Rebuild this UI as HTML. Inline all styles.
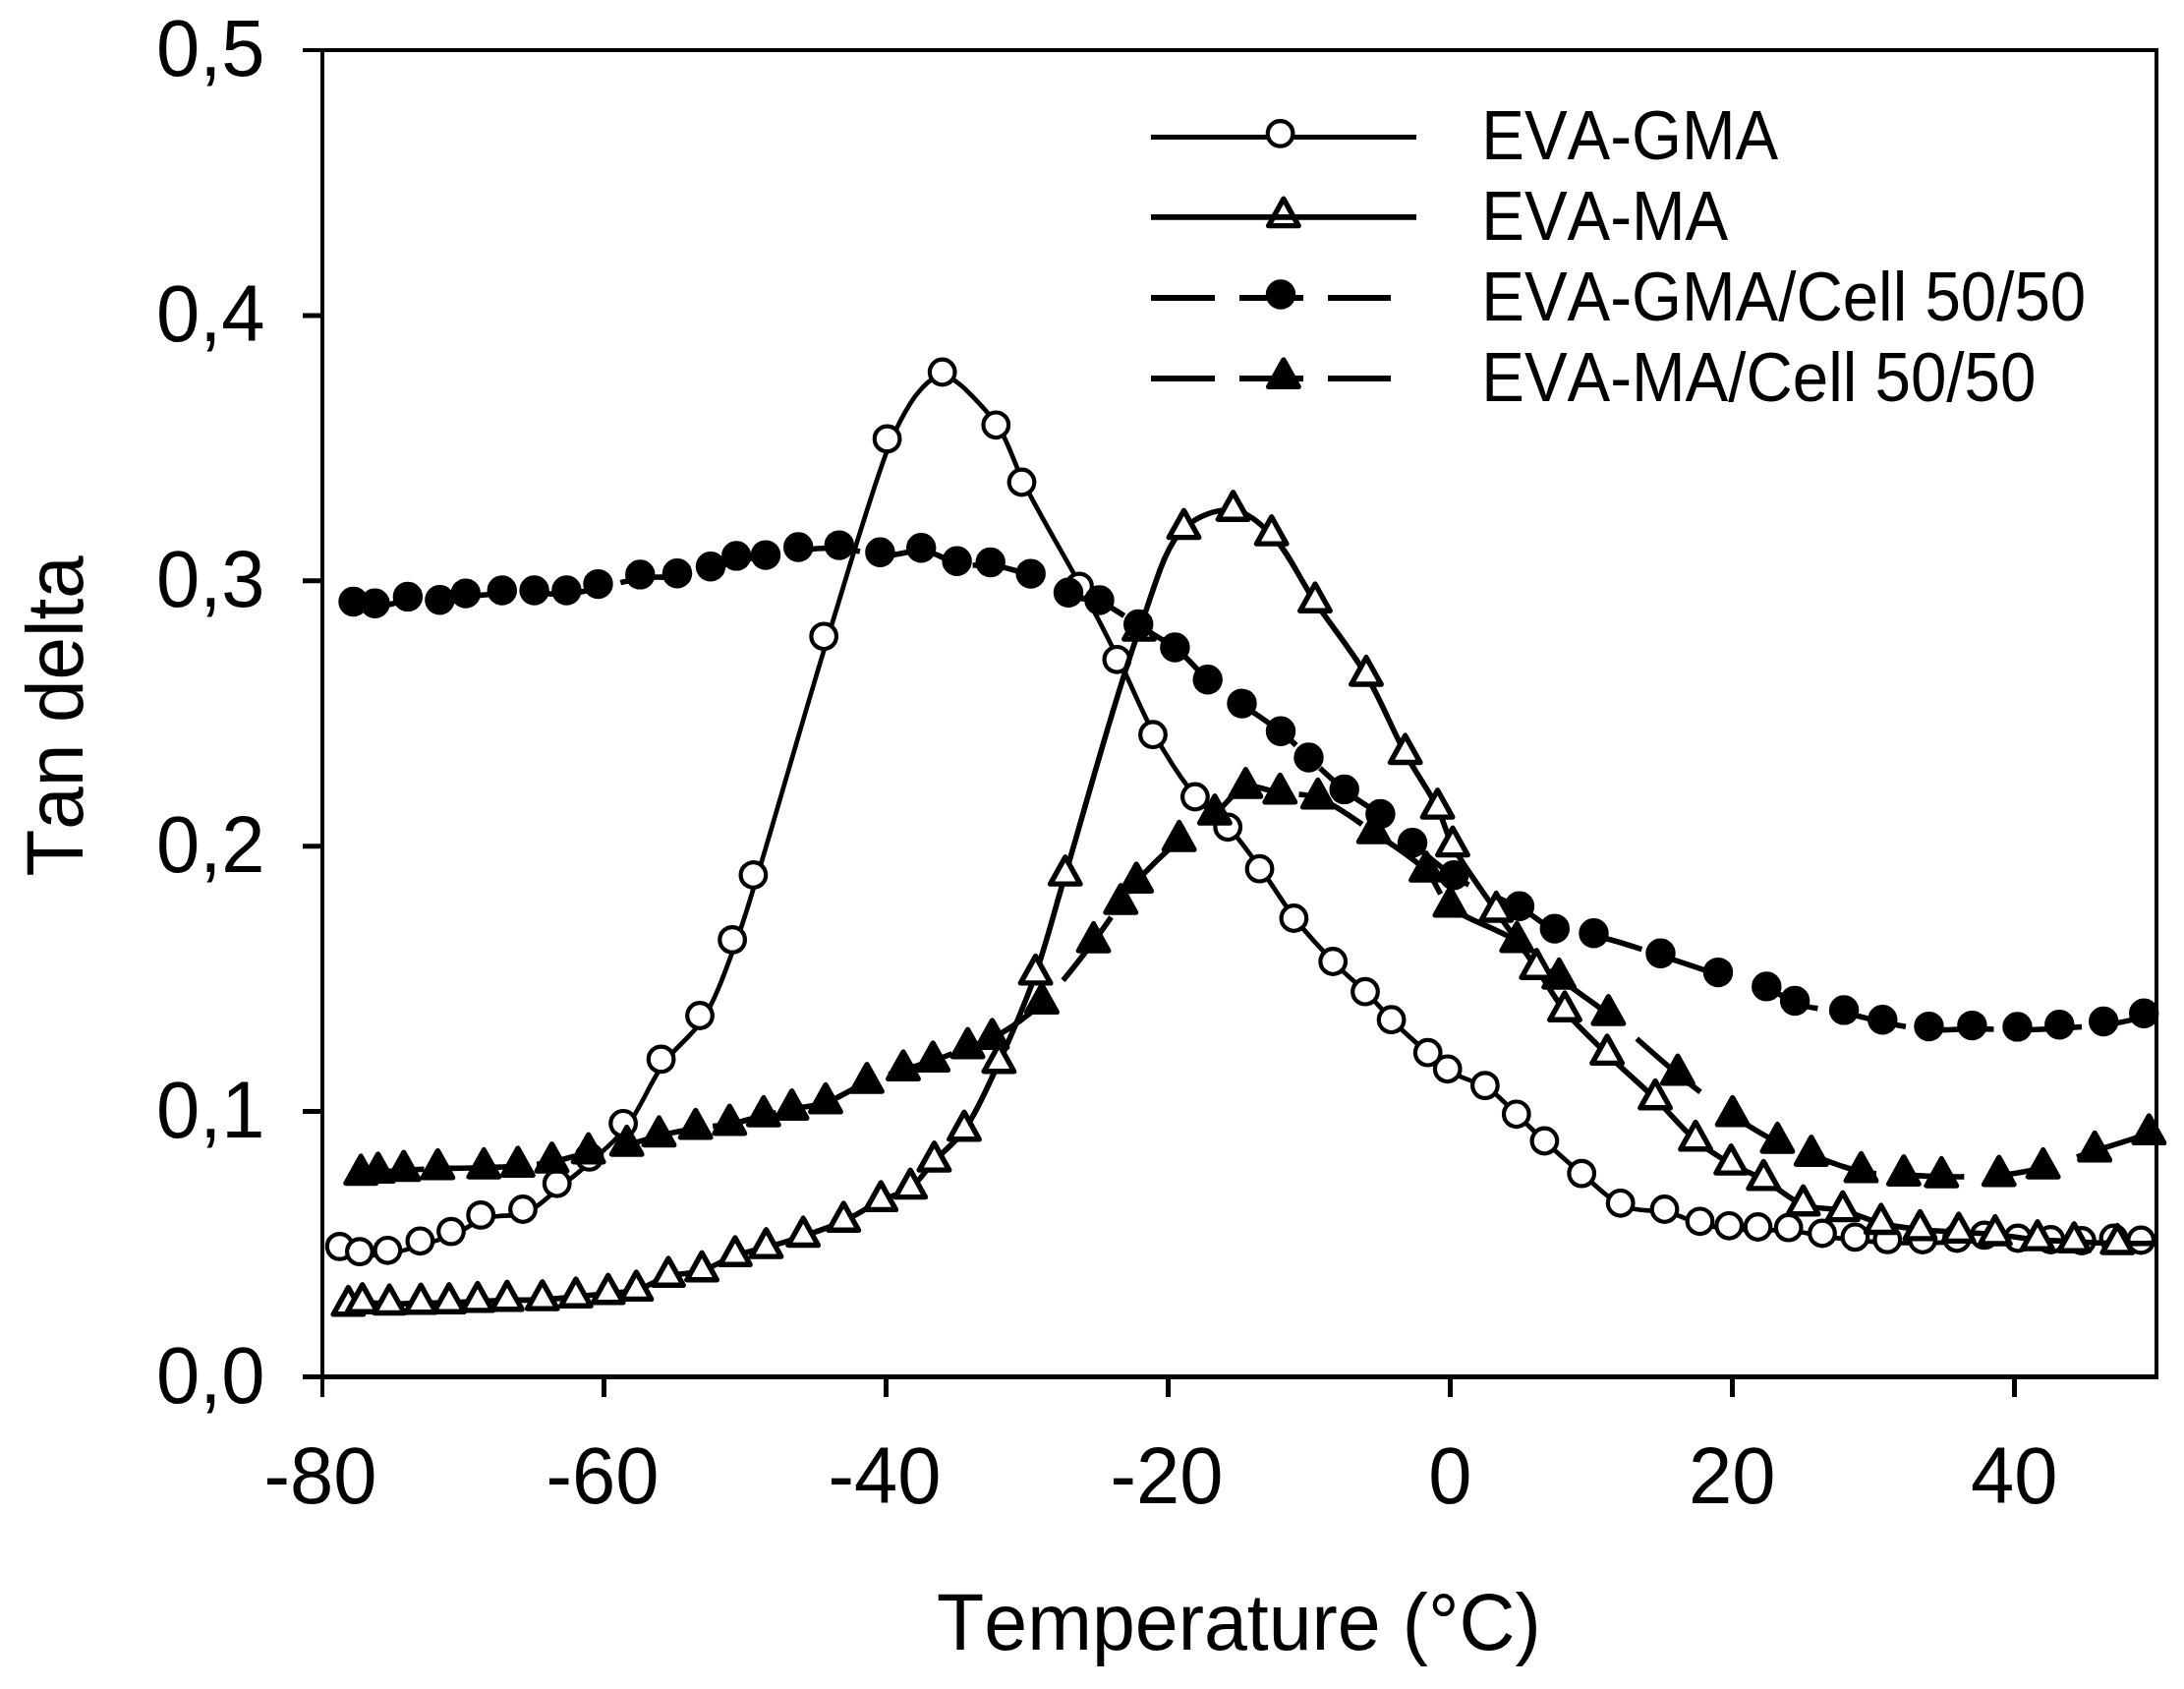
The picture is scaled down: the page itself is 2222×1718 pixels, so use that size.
<!DOCTYPE html>
<html lang="en"><head><meta charset="utf-8"><title>Tan delta vs Temperature</title>
<style>html,body{margin:0;padding:0;background:#fff}svg{display:block}</style></head>
<body>
<svg width="2222" height="1718" viewBox="0 0 2222 1718">
<defs><path id="tri" d="M0 1.8L-15.2 29.1L15.2 29.1Z"/></defs>
<rect width="2222" height="1718" fill="#fff"/>
<g fill="none" stroke="#000" stroke-width="4" stroke-linecap="butt">
<path d="M308 51H2196M2194 49V1403M328 49V1421"/>
<path d="M308 1400.5H2196" stroke-width="5"/>
<path d="M308 1130.6H328M308 860.7H328M308 590.8H328M308 320.9H328" stroke-width="5"/>
<path d="M614.5 1400V1421M901.5 1400V1421M1188.5 1400V1421M1475.5 1400V1421M1762.5 1400V1421M2049.5 1400V1421" stroke-width="5"/>
</g>
<g font-family="'Liberation Sans', Arial, sans-serif" fill="#000" style="font-kerning:none">
<g font-size="79.5" text-anchor="end">
<text transform="translate(269.5 1426.8) scale(1 1.028)">0,0</text>
<text transform="translate(269.5 1156.9) scale(1 1.028)">0,1</text>
<text transform="translate(269.5 887) scale(1 1.028)">0,2</text>
<text transform="translate(269.5 617.1) scale(1 1.028)">0,3</text>
<text transform="translate(269.5 347.2) scale(1 1.028)">0,4</text>
<text transform="translate(269.5 77.3) scale(1 1.028)">0,5</text>
</g>
<g font-size="79.5" text-anchor="middle">
<text transform="translate(325.9 1528.7) scale(1 1.028)">-80</text>
<text transform="translate(612.9 1528.7) scale(1 1.028)">-60</text>
<text transform="translate(899.9 1528.7) scale(1 1.028)">-40</text>
<text transform="translate(1186.9 1528.7) scale(1 1.028)">-20</text>
<text transform="translate(1475.3 1528.7) scale(1 1.028)">0</text>
<text transform="translate(1762.3 1528.7) scale(1 1.028)">20</text>
<text transform="translate(2049.3 1528.7) scale(1 1.028)">40</text>
<text transform="translate(1260.4 1678.2) scale(1 1.035)" font-size="78.9">Temperature (°C)</text>
<text transform="translate(83.6 728.4) rotate(-90) scale(1 1.035)" font-size="78.2">Tan delta</text>
</g>
<g font-size="65.5">
<text transform="translate(1507.2 161.6) scale(1 1.062)">EVA-GMA</text>
<text transform="translate(1507.2 243.6) scale(1 1.062)">EVA-MA</text>
<text transform="translate(1507.2 325.6) scale(1 1.062)">EVA-GMA/Cell 50/50</text>
<text transform="translate(1507.2 407.6) scale(1 1.062)">EVA-MA/Cell 50/50</text>
</g>
</g>
<path d="M349 1271.2C355.8 1272.9 361.9 1275.6 369.3 1276.4C377.9 1277.3 388 1276.7 397.8 1275.1C408.5 1273.3 419.9 1268.8 430.8 1265.6C441.5 1262.4 452.2 1260.2 462.4 1255.9C472.8 1251.5 481.3 1243 492.6 1239.2C505.3 1235 522.5 1238.6 535.4 1233.3C548.3 1228 558.8 1216 570.1 1207.1C581.3 1198.3 592 1190 602.9 1180.2C614.5 1169.7 626.5 1160.2 637.5 1146.1C651.2 1128.5 662.1 1099.8 676 1080.7C688.3 1063.8 704 1054.2 715.4 1036.3C728.9 1015 739.2 984.1 748.5 959.2C757 936.6 760.8 922.3 769.8 893.3C786.9 837.9 817.9 727.6 841.6 650.6C863.3 580.3 889.2 490.4 906 449.7C913.7 431 920.3 419.7 926.2 410.2C929.8 404.4 932.6 400.9 936.1 397C939.3 393.4 942.2 390 946 387.5C950.1 384.8 955.3 381.3 960 381.5C964.9 381.7 970 386.1 974.8 389.6C980.4 393.7 985.4 398.9 991.3 405.2C999.1 413.5 1008.9 423.2 1016.7 435.6C1026.6 451.3 1031.9 471.8 1042.9 493.8C1058.1 524.1 1084.1 567.4 1101.4 599.7C1115.8 626.6 1127.3 649 1139.8 674.1C1152.3 699.3 1162.7 726.7 1176.4 750.5C1189.4 773.1 1204.9 797.1 1219.3 813.8C1230.4 826.7 1242.1 833 1252.6 844.6C1264 857.2 1274.1 872.1 1284.9 887C1296.5 902.9 1307.2 921.5 1319.8 937.3C1332.2 952.9 1346.7 968.2 1359.6 981.3C1370.8 992.7 1382.2 1001.8 1392.4 1012C1401.9 1021.5 1409.2 1030.8 1419 1040.5C1430.1 1051.4 1445.5 1064.9 1456.1 1074C1463.7 1080.6 1467.9 1085.6 1476.1 1090.6C1486.4 1097 1502.7 1099.8 1514.3 1107.4C1526.1 1115.1 1535.9 1127 1546.2 1136.6C1556 1145.8 1564.5 1154.4 1574.8 1163.8C1586.4 1174.4 1599.7 1186.3 1612.6 1196.9C1625.5 1207.4 1637.7 1221.1 1652.1 1227.1C1665.9 1232.8 1682.9 1230 1696.9 1233.3C1709.7 1236.3 1721.4 1242.8 1732.9 1245.6C1743.2 1248.1 1752.7 1249.2 1762.6 1250.1C1772.4 1251 1782 1251 1791.9 1251.3C1802.1 1251.6 1812.5 1251 1823.1 1252C1834.3 1253.1 1846 1256.2 1857.4 1257.8C1868.6 1259.4 1879.7 1260.5 1890.8 1261.6C1901.8 1262.7 1912.5 1263.7 1923.7 1264.2C1935.4 1264.7 1947.6 1264.5 1959.5 1264.3C1971.2 1264.1 1983.4 1263.6 1994.4 1262.8C2004.2 1262 2012.5 1259.8 2022.3 1259.7C2033.1 1259.6 2045.1 1262 2056.4 1262.8C2067.6 1263.6 2078.8 1263.9 2089.8 1264.3C2100.5 1264.7 2110.7 1265.5 2121.3 1265.3C2132.1 1265.1 2143.5 1262.8 2153.9 1262.8C2163.5 1262.8 2172.4 1264.1 2181.6 1264.8" fill="none" stroke="#000" stroke-width="4.7" stroke-linejoin="round"/>
<g fill="#fff" stroke="#000" stroke-width="4.2">
<circle cx="345.6" cy="1267.9" r="12.8"/>
<circle cx="365.9" cy="1273.1" r="12.8"/>
<circle cx="394.4" cy="1271.8" r="12.8"/>
<circle cx="427.4" cy="1262.3" r="12.8"/>
<circle cx="459" cy="1252.6" r="12.8"/>
<circle cx="489.2" cy="1235.9" r="12.8"/>
<circle cx="532" cy="1230" r="12.8"/>
<circle cx="566.7" cy="1203.8" r="12.8"/>
<circle cx="599.5" cy="1176.9" r="12.8"/>
<circle cx="634.1" cy="1142.8" r="12.8"/>
<circle cx="672.6" cy="1077.4" r="12.8"/>
<circle cx="712" cy="1033" r="12.8"/>
<circle cx="745.1" cy="955.9" r="12.8"/>
<circle cx="766.4" cy="890" r="12.8"/>
<circle cx="838.2" cy="647.3" r="12.8"/>
<circle cx="902.6" cy="446.4" r="12.8"/>
<circle cx="958.7" cy="378.5" r="12.8"/>
<circle cx="1013.3" cy="432.3" r="12.8"/>
<circle cx="1039.5" cy="490.5" r="12.8"/>
<circle cx="1098" cy="596.4" r="12.8"/>
<circle cx="1136.4" cy="670.8" r="12.8"/>
<circle cx="1173" cy="747.2" r="12.8"/>
<circle cx="1215.9" cy="810.5" r="12.8"/>
<circle cx="1249.2" cy="841.3" r="12.8"/>
<circle cx="1281.5" cy="883.7" r="12.8"/>
<circle cx="1316.4" cy="934" r="12.8"/>
<circle cx="1356.2" cy="978" r="12.8"/>
<circle cx="1389" cy="1008.7" r="12.8"/>
<circle cx="1415.6" cy="1037.2" r="12.8"/>
<circle cx="1452.7" cy="1070.7" r="12.8"/>
<circle cx="1472.7" cy="1087.3" r="12.8"/>
<circle cx="1510.9" cy="1104.1" r="12.8"/>
<circle cx="1542.8" cy="1133.3" r="12.8"/>
<circle cx="1571.4" cy="1160.5" r="12.8"/>
<circle cx="1609.2" cy="1193.6" r="12.8"/>
<circle cx="1648.7" cy="1223.8" r="12.8"/>
<circle cx="1693.5" cy="1230" r="12.8"/>
<circle cx="1729.5" cy="1242.3" r="12.8"/>
<circle cx="1759.2" cy="1246.8" r="12.8"/>
<circle cx="1788.5" cy="1248" r="12.8"/>
<circle cx="1819.7" cy="1248.7" r="12.8"/>
<circle cx="1854" cy="1254.5" r="12.8"/>
<circle cx="1887.4" cy="1258.3" r="12.8"/>
<circle cx="1920.3" cy="1260.9" r="12.8"/>
<circle cx="1956.1" cy="1261" r="12.8"/>
<circle cx="1991" cy="1259.5" r="12.8"/>
<circle cx="2018.9" cy="1256.4" r="12.8"/>
<circle cx="2053" cy="1259.5" r="12.8"/>
<circle cx="2086.4" cy="1261" r="12.8"/>
<circle cx="2117.9" cy="1262" r="12.8"/>
<circle cx="2150.5" cy="1259.5" r="12.8"/>
<circle cx="2178.2" cy="1261.5" r="12.8"/>
</g>
<path d="M354.4 1327.6C359.2 1326.7 363.1 1325.4 368.7 1325C376.4 1324.5 386.7 1326.2 396.2 1326.3C406.5 1326.4 417.8 1325.7 428.2 1325.5C438 1325.3 447.3 1325.3 456.9 1325C466.5 1324.7 476.2 1324.1 485.9 1323.7C495.8 1323.3 505.4 1322.8 515.9 1322.5C527.3 1322.2 540 1322.5 551.8 1321.9C563.3 1321.3 574.7 1320.2 585.9 1319.1C596.9 1318 608.1 1316.7 618.7 1315.5C628.6 1314.4 637.7 1314.8 647.4 1312.2C658.1 1309.3 668.8 1301.4 680 1298.1C691 1294.9 703 1295.9 714.1 1292.5C725.6 1289 736.6 1281.1 747.9 1277.1C758.4 1273.4 768.5 1272 779.5 1268.9C791.5 1265.5 804.4 1261.6 817.2 1257.3C830.7 1252.7 845.1 1248.1 858.3 1242.1C871.4 1236.1 884.2 1227.1 896.2 1221.2C906.6 1216.1 917.3 1214.8 926.2 1208.4C935.6 1201.6 941.8 1190.3 950.5 1180.9C960 1170.7 971.4 1162.9 981 1149.5C993.8 1131.7 1004.9 1105.3 1016.4 1080.5C1029.2 1052.8 1042.5 1021.8 1053.6 990.7C1065.1 958.4 1071.4 931 1083.8 889.9C1103.2 825.3 1135.2 705.4 1159 640.9C1174.7 598.4 1183.9 556.7 1204.5 537.4C1218.6 524.1 1239.3 517.3 1254.6 519C1268.9 520.5 1281.5 531.8 1293.7 543.9C1309.9 559.9 1322.4 589 1338 612.1C1354.5 636.6 1374.6 660.9 1390 686.8C1405.2 712.4 1416.7 742.4 1429.7 766.3C1440.8 786.7 1454.2 804.8 1462.6 821.9C1469.4 835.6 1470.6 846.3 1478 860.4C1488.3 880 1507.7 905.5 1522.3 926.8C1536.1 946.9 1551 967 1563.3 985C1573.8 1000.4 1580.7 1014.2 1592 1028.1C1604.3 1043.3 1620.1 1057.6 1635.1 1072.2C1650.7 1087.4 1668.7 1102.6 1684.1 1117.6C1698.6 1131.7 1711.3 1148.1 1725.1 1159.6C1737 1169.5 1749.2 1177 1761.2 1183.9C1772.2 1190.2 1782.9 1193.4 1794.3 1199.7C1807.3 1206.9 1820.6 1220.3 1834.6 1225.5C1847.5 1230.3 1861.6 1228.3 1874.8 1231.4C1888 1234.5 1900.6 1241.1 1913.8 1244.3C1926.8 1247.5 1940.3 1249.2 1953.5 1250.7C1966.6 1252.2 1979.9 1252.3 1992.8 1253.2C2005.3 1254 2017.1 1254.6 2029.9 1255.8C2043.7 1257.1 2059.1 1259.7 2073 1260.9C2085.8 1262 2097.3 1262.4 2110.2 1263C2124.3 1263.7 2140.1 1264.5 2154.3 1264.8C2167.6 1265 2180.1 1264.7 2193 1264.6" fill="none" stroke="#000" stroke-width="5.6" stroke-linejoin="round"/>
<g fill="#fff" stroke="#000" stroke-width="5.4" stroke-linejoin="round">
<use href="#tri" x="354.4" y="1307.7"/>
<use href="#tri" x="368.7" y="1305.1"/>
<use href="#tri" x="396.2" y="1306.4"/>
<use href="#tri" x="428.2" y="1305.6"/>
<use href="#tri" x="456.9" y="1305.1"/>
<use href="#tri" x="485.9" y="1303.8"/>
<use href="#tri" x="515.9" y="1302.6"/>
<use href="#tri" x="551.8" y="1302"/>
<use href="#tri" x="585.9" y="1299.2"/>
<use href="#tri" x="618.7" y="1295.6"/>
<use href="#tri" x="647.4" y="1292.3"/>
<use href="#tri" x="680" y="1278.2"/>
<use href="#tri" x="714.1" y="1272.6"/>
<use href="#tri" x="747.9" y="1257.2"/>
<use href="#tri" x="779.5" y="1249"/>
<use href="#tri" x="817.2" y="1237.4"/>
<use href="#tri" x="858.3" y="1222.2"/>
<use href="#tri" x="896.2" y="1201.3"/>
<use href="#tri" x="926.2" y="1188.5"/>
<use href="#tri" x="950.5" y="1161"/>
<use href="#tri" x="981" y="1129.6"/>
<use href="#tri" x="1016.4" y="1060.6"/>
<use href="#tri" x="1053.6" y="970.8"/>
<use href="#tri" x="1083.8" y="870"/>
<use href="#tri" x="1159" y="621"/>
<use href="#tri" x="1204.5" y="517.5"/>
<use href="#tri" x="1254.6" y="499.1"/>
<use href="#tri" x="1293.7" y="524"/>
<use href="#tri" x="1338" y="592.2"/>
<use href="#tri" x="1390" y="666.9"/>
<use href="#tri" x="1429.7" y="746.4"/>
<use href="#tri" x="1462.6" y="802"/>
<use href="#tri" x="1478" y="840.5"/>
<use href="#tri" x="1522.3" y="906.9"/>
<use href="#tri" x="1563.3" y="965.1"/>
<use href="#tri" x="1592" y="1008.2"/>
<use href="#tri" x="1635.1" y="1052.3"/>
<use href="#tri" x="1684.1" y="1097.7"/>
<use href="#tri" x="1725.1" y="1139.7"/>
<use href="#tri" x="1761.2" y="1164"/>
<use href="#tri" x="1794.3" y="1179.8"/>
<use href="#tri" x="1834.6" y="1205.6"/>
<use href="#tri" x="1874.8" y="1211.5"/>
<use href="#tri" x="1913.8" y="1224.4"/>
<use href="#tri" x="1953.5" y="1230.8"/>
<use href="#tri" x="1992.8" y="1233.3"/>
<use href="#tri" x="2029.9" y="1235.9"/>
<use href="#tri" x="2073" y="1241"/>
<use href="#tri" x="2110.2" y="1243.1"/>
<use href="#tri" x="2154.3" y="1244.9"/>
</g>
<path d="M362.9 615.3C370.2 615.9 376.8 617.6 384.9 617.1C394.9 616.5 407.2 610.8 418.3 610.2C429.2 609.7 440.6 614.3 450.8 613.6C460.1 612.9 467.6 608.5 477.2 606.9C488.4 605 502.2 604.3 514.2 603.8C525.5 603.3 536.1 603.8 547 603.8C557.9 603.8 569 604.9 579.8 603.8C590.6 602.7 600.4 599.8 611.9 597.4C625.2 594.6 640.8 589.5 654.7 587.7C667.6 586.1 680.2 588 692.4 586.6C704.1 585.2 715.9 582.7 726.4 579.5C735.8 576.6 743.4 570.7 752.6 568.7C762 566.7 772.3 569.3 782.4 567.9C793.2 566.4 803.8 561.5 815.6 559.8C828.6 557.9 843.4 557 857.2 557.9C871.1 558.8 884.9 564.7 898.8 565.1C912.7 565.5 927.3 558.8 940.6 560.5C953.4 562.1 964.9 571.7 977 574.1C988.4 576.4 999.3 573.5 1011.1 575.3C1024.3 577.4 1038.9 581.8 1052.1 586.9C1065.3 592 1078 601.5 1090.4 606.1C1101.2 610.1 1111.2 609.3 1121.9 613.8C1134.8 619.2 1148.6 630.1 1161.6 638.2C1174.2 646.1 1187.2 652.6 1198.8 661.8C1210.7 671.3 1220.5 684.9 1232.1 694.6C1243.2 703.8 1255 710.5 1266.9 718.9C1279.7 727.9 1294.6 737.4 1306.4 747.1C1317 755.8 1324.8 764.5 1334.9 773.8C1346.2 784.1 1358.7 796.4 1371.1 806.2C1383 815.5 1396.2 822.2 1407.8 831.3C1419.3 840.3 1428.7 850.7 1440.4 860.5C1453.4 871.4 1466.3 883.5 1482.6 893.6C1501.7 905.4 1530.7 914.9 1549.3 925.1C1563.4 932.9 1572.4 943.4 1585.2 947.9C1597.6 952.3 1610.1 949.4 1624.9 952.5C1644.7 956.6 1671.1 966.1 1692.9 973C1713.2 979.4 1732.7 986.6 1751.4 992.4C1768.5 997.7 1786.7 1001.2 1800.7 1006.7C1811.8 1011.1 1818.3 1017.5 1829.5 1021.3C1843.6 1026.1 1863.9 1027.3 1879.5 1030.7C1893.4 1033.7 1905 1037.8 1918.7 1040.5C1933.6 1043.5 1950.4 1046.5 1965.9 1047.4C1980.8 1048.3 1995 1046.4 2009.8 1046.4C2025 1046.4 2040.8 1047.9 2055.9 1047.7C2070.4 1047.5 2084.3 1046.5 2098.7 1045.6C2113.5 1044.7 2129 1044.3 2143.6 1042.3C2157.6 1040.4 2170.9 1036.8 2184.6 1034.1" fill="none" stroke="#000" stroke-width="5.6" stroke-dasharray="65.4 25.2 65.5 25 65 25.7 65.1 25.5 67 25.9 65 25.4 66.7 25.9 66.4 28.3 70 29.3 81.2 30.3 79 33.9 80.2 32.9 79.7 26.9 73 25.1 65.3 26.3 67.9 25.9 69.4 25.3 66.2 25.2 64.5 25 64.6 25.1 47.9 0"/>
<g fill="#000">
<circle cx="359.5" cy="612" r="15.2"/>
<circle cx="381.5" cy="613.8" r="15.2"/>
<circle cx="414.9" cy="606.9" r="15.2"/>
<circle cx="447.4" cy="610.3" r="15.2"/>
<circle cx="473.8" cy="603.6" r="15.2"/>
<circle cx="510.8" cy="600.5" r="15.2"/>
<circle cx="543.6" cy="600.5" r="15.2"/>
<circle cx="576.4" cy="600.5" r="15.2"/>
<circle cx="608.5" cy="594.1" r="15.2"/>
<circle cx="651.3" cy="584.4" r="15.2"/>
<circle cx="689" cy="583.3" r="15.2"/>
<circle cx="723" cy="576.2" r="15.2"/>
<circle cx="749.2" cy="565.4" r="15.2"/>
<circle cx="779" cy="564.6" r="15.2"/>
<circle cx="812.2" cy="556.5" r="15.2"/>
<circle cx="853.8" cy="554.6" r="15.2"/>
<circle cx="895.4" cy="561.8" r="15.2"/>
<circle cx="937.2" cy="557.2" r="15.2"/>
<circle cx="973.6" cy="570.8" r="15.2"/>
<circle cx="1007.7" cy="572" r="15.2"/>
<circle cx="1048.7" cy="583.6" r="15.2"/>
<circle cx="1087" cy="602.8" r="15.2"/>
<circle cx="1118.5" cy="610.5" r="15.2"/>
<circle cx="1158.2" cy="634.9" r="15.2"/>
<circle cx="1195.4" cy="658.5" r="15.2"/>
<circle cx="1228.7" cy="691.3" r="15.2"/>
<circle cx="1263.5" cy="715.6" r="15.2"/>
<circle cx="1303" cy="743.8" r="15.2"/>
<circle cx="1331.5" cy="770.5" r="15.2"/>
<circle cx="1367.7" cy="802.9" r="15.2"/>
<circle cx="1404.4" cy="828" r="15.2"/>
<circle cx="1437" cy="857.2" r="15.2"/>
<circle cx="1479.2" cy="890.3" r="15.2"/>
<circle cx="1545.9" cy="921.8" r="15.2"/>
<circle cx="1581.8" cy="944.6" r="15.2"/>
<circle cx="1621.5" cy="949.2" r="15.2"/>
<circle cx="1689.5" cy="969.7" r="15.2"/>
<circle cx="1748" cy="989.1" r="15.2"/>
<circle cx="1797.3" cy="1003.4" r="15.2"/>
<circle cx="1826.1" cy="1018" r="15.2"/>
<circle cx="1876.1" cy="1027.4" r="15.2"/>
<circle cx="1915.3" cy="1037.2" r="15.2"/>
<circle cx="1962.5" cy="1044.1" r="15.2"/>
<circle cx="2006.4" cy="1043.1" r="15.2"/>
<circle cx="2052.5" cy="1044.4" r="15.2"/>
<circle cx="2095.3" cy="1042.3" r="15.2"/>
<circle cx="2140.2" cy="1039" r="15.2"/>
<circle cx="2181.2" cy="1030.8" r="15.2"/>
</g>
<path d="M367.2 1194.3C373 1193.6 378.2 1192.8 384.6 1192.2C392.4 1191.5 401.5 1191 410.8 1190.4C421.5 1189.8 433 1189 445.4 1188.6C459.8 1188.1 477.9 1188.3 492.3 1187.8C504.7 1187.4 515.4 1187.1 526.9 1186.1C538.5 1185.1 549.8 1184.1 561.5 1181.9C573.7 1179.6 586.1 1175.3 598.7 1172.5C611.5 1169.6 625.3 1167.8 637.7 1164.8C649.2 1162 659.2 1158.1 670.5 1155.3C682.5 1152.3 695.5 1149.6 707.7 1147.6C719.4 1145.7 730.8 1145.6 742.3 1143.5C753.9 1141.4 765.9 1137.5 776.9 1134.8C786.9 1132.4 795.6 1130.1 805.6 1128C816.5 1125.7 828.2 1125.5 840 1121.6C853.6 1117.1 868.3 1106.6 882 1100.9C894.6 1095.7 907.3 1091.9 919 1088.1C929.5 1084.7 938.8 1082.6 949.2 1079.1C960.6 1075.2 973.8 1069.6 984.6 1065.5C993.6 1062.1 1000.1 1061.1 1009.5 1056.1C1023.8 1048.5 1043.9 1035 1060 1020.2C1078.5 1003.2 1098.2 976.4 1112.6 957.8C1123.6 943.6 1132.3 930 1140.3 918.9C1146.3 910.6 1149.2 905.2 1156.2 897.1C1166.8 884.9 1185.5 866.9 1199.7 854.8C1212 844.4 1224.4 837.1 1235.9 827.9C1246.9 819.1 1255.8 804.2 1267.4 800.9C1278.1 797.9 1290.4 804.8 1302.3 806.6C1314.8 808.4 1327.3 806.9 1340.8 811.7C1358.6 818 1379.4 834.5 1397.8 846.9C1416.1 859.2 1437.5 871.9 1451 885.9C1461.9 897.2 1463.5 911 1475.4 921.7C1491.3 935.9 1523.9 944.3 1543.3 957.6C1560 969 1571.1 982.7 1586.2 994.8C1602 1007.5 1618.5 1017.6 1636.4 1031.9C1658.2 1049.3 1684.5 1074.5 1706.9 1092.5C1726.3 1108.2 1744.7 1122.5 1762.7 1134.6C1778.4 1145.1 1794 1154.8 1808.4 1161.8C1820.4 1167.6 1830.2 1170.5 1842.8 1175C1858 1180.4 1877.1 1188.4 1893.5 1191.7C1908.3 1194.7 1922.9 1194.1 1936.9 1195C1950.1 1195.8 1961.2 1196.6 1975.3 1196.8C1992.8 1197 2015.6 1197.2 2033.8 1195.5C2049.8 1194 2063.3 1191.6 2078.7 1187.8C2095.7 1183.6 2113.5 1176.4 2131.2 1170.7C2149.4 1164.9 2168 1159 2186.4 1153.2" fill="none" stroke="#000" stroke-width="5.6" stroke-dasharray="64.7 25 64.5 25.1 66.1 25.5 66.6 25.2 66.1 25.5 69.6 26.7 67.9 26.7 76.7 34 80.7 30.3 85.7 30.6 75.3 25 71.9 30 78.8 30.8 72.5 33.5 80.5 32.7 84.2 31.1 74.7 26.6 67.3 25 64.6 25 65.6 26.4 67.8 14.7"/>
<g fill="#000" stroke="#000" stroke-width="5.4" stroke-linejoin="round">
<use href="#tri" x="367.2" y="1174.4"/>
<use href="#tri" x="384.6" y="1172.3"/>
<use href="#tri" x="410.8" y="1170.5"/>
<use href="#tri" x="445.4" y="1168.7"/>
<use href="#tri" x="492.3" y="1167.9"/>
<use href="#tri" x="526.9" y="1166.2"/>
<use href="#tri" x="561.5" y="1162"/>
<use href="#tri" x="598.7" y="1152.6"/>
<use href="#tri" x="637.7" y="1144.9"/>
<use href="#tri" x="670.5" y="1135.4"/>
<use href="#tri" x="707.7" y="1127.7"/>
<use href="#tri" x="742.3" y="1123.6"/>
<use href="#tri" x="776.9" y="1114.9"/>
<use href="#tri" x="805.6" y="1108.1"/>
<use href="#tri" x="840" y="1101.7"/>
<use href="#tri" x="882" y="1081"/>
<use href="#tri" x="919" y="1068.2"/>
<use href="#tri" x="949.2" y="1059.2"/>
<use href="#tri" x="984.6" y="1045.6"/>
<use href="#tri" x="1009.5" y="1036.2"/>
<use href="#tri" x="1060" y="1000.3"/>
<use href="#tri" x="1112.6" y="937.9"/>
<use href="#tri" x="1140.3" y="899"/>
<use href="#tri" x="1156.2" y="877.2"/>
<use href="#tri" x="1199.7" y="834.9"/>
<use href="#tri" x="1235.9" y="808"/>
<use href="#tri" x="1267.4" y="781"/>
<use href="#tri" x="1302.3" y="786.7"/>
<use href="#tri" x="1340.8" y="791.8"/>
<use href="#tri" x="1397.8" y="827"/>
<use href="#tri" x="1451" y="866"/>
<use href="#tri" x="1475.4" y="901.8"/>
<use href="#tri" x="1543.3" y="937.7"/>
<use href="#tri" x="1586.2" y="974.9"/>
<use href="#tri" x="1636.4" y="1012"/>
<use href="#tri" x="1706.9" y="1072.6"/>
<use href="#tri" x="1762.7" y="1114.7"/>
<use href="#tri" x="1808.4" y="1141.9"/>
<use href="#tri" x="1842.8" y="1155.1"/>
<use href="#tri" x="1893.5" y="1171.8"/>
<use href="#tri" x="1936.9" y="1175.1"/>
<use href="#tri" x="1975.3" y="1176.9"/>
<use href="#tri" x="2033.8" y="1175.6"/>
<use href="#tri" x="2078.7" y="1167.9"/>
<use href="#tri" x="2131.2" y="1150.8"/>
<use href="#tri" x="2186.4" y="1133.3"/>
</g>
<g stroke="#000" fill="none">
<path d="M1171 139.4H1441" stroke-width="5"/>
<circle cx="1302.6" cy="135.9" r="12.8" fill="#fff" stroke-width="4.2"/>
<path d="M1305.9 202.3L1290.7 229.6L1321.1 229.6Z" fill="#fff" stroke-width="5.4" stroke-linejoin="round"/>
<path d="M1171 220.8H1441" stroke-width="5.8"/>
<path d="M1171 303H1415" stroke-width="5.8" stroke-dasharray="65 25"/>
<circle cx="1303" cy="299.5" r="15.2" fill="#000" stroke="none"/>
<path d="M1171 385H1415" stroke-width="5.8" stroke-dasharray="65 25"/>
<path d="M1305.9 366L1290.7 393.3L1321.1 393.3Z" fill="#000" stroke-width="5.4" stroke-linejoin="round"/>
</g>
</svg>
</body></html>
